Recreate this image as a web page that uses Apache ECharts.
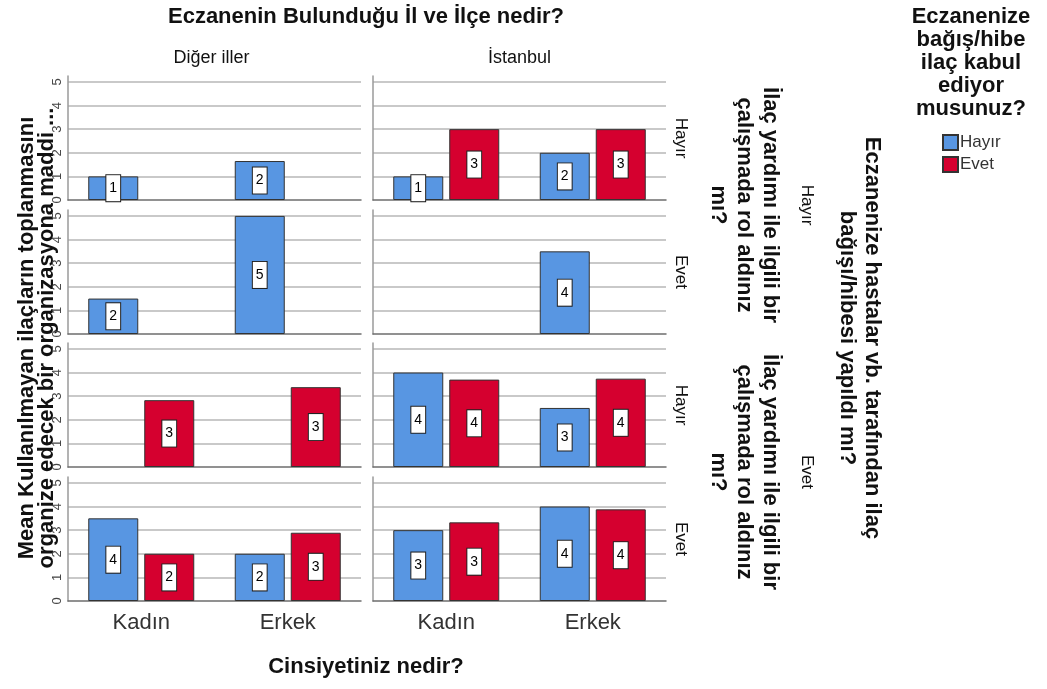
<!DOCTYPE html>
<html>
<head>
<meta charset="utf-8">
<script src="https://cdn.jsdelivr.net/npm/echarts@6/dist/echarts.min.js"></script>
<style>
  html, body { margin: 0; padding: 0; background: #fff; }
  #chart { width: 1047px; height: 689px; }
</style>
</head>
<body>
<div id="chart"></div>
<script>
const categories = ['Kadın', 'Erkek']
const columns = ['Diğer iller', 'İstanbul']
const innerRows = ['Hayır', 'Evet', 'Hayır', 'Evet']
const outerRows = ['Hayır', 'Evet']
const groups = ['Hayır', 'Evet']
// one entry per panel row, top to bottom; each entry is [Kadın, Erkek]
const digerHayir = [[1.0, 1.65], [1.5, 5.0], [null, null], [3.5, 2.0]]
const digerEvet = [[null, null], [null, null], [2.83, 3.38], [2.0, 2.89]]
const istanbulHayir = [[1.0, 2.0], [null, 3.5], [4.0, 2.5], [3.0, 4.0]]
const istanbulEvet = [[3.0, 3.0], [null, null], [3.7, 3.74], [3.33, 3.88]]

const FONT = 'Liberation Sans, Arial, sans-serif'
const colors = ['#5896e2', '#d5002f']
const rowTops = [76, 210, 343, 477]
const rowH = 124
const colLefts = [68, 373]
const colW = 293

const chart = echarts.init(document.getElementById('chart'))

const grids = []
const xAxes = []
const yAxes = []
const series = []
const panelData = [[digerHayir, digerEvet], [istanbulHayir, istanbulEvet]]

rowTops.forEach((top, r) => {
  colLefts.forEach((left, c) => {
    const idx = grids.length
    grids.push({ left: left, top: top, width: colW, height: rowH })
    xAxes.push({
      type: 'category',
      gridIndex: idx,
      data: categories,
      axisLine: { lineStyle: { color: '#6e6e6e', width: 1.5 } },
      axisTick: { show: false },
      axisLabel: {
        show: r === rowTops.length - 1,
        fontSize: 22,
        color: '#333',
        fontFamily: FONT,
        margin: 11
      }
    })
    yAxes.push({
      type: 'value',
      gridIndex: idx,
      min: 0,
      max: 5.25,
      interval: 1,
      axisLine: { show: true, lineStyle: { color: '#9a9a9a', width: 1.5 } },
      axisTick: { show: false },
      axisLabel: {
        show: c === 0,
        showMaxLabel: false,
        rotate: 90,
        fontSize: 13,
        color: '#444',
        fontFamily: FONT,
        margin: 4
      },
      splitLine: {
        show: true,
        showMinLine: false,
        showMaxLine: false,
        lineStyle: { color: '#c9c9c9', width: 2 }
      }
    })
    groups.forEach((g, s) => {
      series.push({
        name: g,
        type: 'bar',
        xAxisIndex: idx,
        yAxisIndex: idx,
        barWidth: 50,
        barGap: '12%',
        itemStyle: { color: colors[s], borderColor: '#333', borderWidth: 1 },
        label: {
          show: true,
          position: 'inside',
          formatter: p => Math.round(p.value),
          color: '#000',
          fontSize: 14,
          fontFamily: FONT,
          backgroundColor: '#fff',
          borderColor: '#222',
          borderWidth: 1,
          padding: [6, 3]
        },
        data: panelData[c][s][r]
      })
    })
  })
})

const txt = (text, x, y, size, bold, rotation, lineHeight) => ({
  type: 'text',
  x: x,
  y: y,
  rotation: rotation || 0,
  silent: true,
  style: {
    text: text,
    fontSize: size,
    fontWeight: bold ? 'bold' : 'normal',
    fontFamily: FONT,
    fill: '#111',
    align: 'center',
    verticalAlign: 'middle',
    lineHeight: lineHeight || size * 1.2
  }
})

const graphics = [
  txt('Eczanenin Bulunduğu İl ve İlçe nedir?', 366, 17, 22, true),
  txt(columns[0], colLefts[0] + colW / 2 - 3, 58, 18, false),
  txt(columns[1], colLefts[1] + colW / 2, 58, 18, false),
  txt('Cinsiyetiniz nedir?', 366, 667, 22, true),
  txt('Mean Kullanılmayan ilaçların toplanmasını\norganize edecek bir organizasyona maddi ...', 37, 338, 22, true, Math.PI / 2, 20),
  txt('Eczanenize\nbağış/hibe\nilaç kabul\nediyor\nmusunuz?', 971, 63, 22, true, 0, 23),
  txt('Eczanenize hastalar vb. tarafından ilaç\nbağışı/hibesi yapıldı mı?', 860, 338, 22, true, -Math.PI / 2, 25)
]
innerRows.forEach((label, r) => {
  graphics.push(txt(label, 681, rowTops[r] + rowH / 2, 17, false, -Math.PI / 2))
})
outerRows.forEach((label, k) => {
  const cy = (rowTops[k * 2] + rowTops[k * 2 + 1] + rowH) / 2
  graphics.push(txt(label, 807, cy, 17, false, -Math.PI / 2))
  graphics.push(txt('İlaç yardımı ile ilgili bir\nçalışmada rol aldınız\nmı?', 744, cy, 22, true, -Math.PI / 2, 26))
})

const option = {
  animation: false,
  color: colors,
  legend: {
    data: groups,
    orient: 'vertical',
    left: 937,
    top: 129,
    itemWidth: 15,
    itemHeight: 15,
    itemGap: 5,
    icon: 'rect',
    textStyle: { fontSize: 17, color: '#333', fontFamily: FONT, padding: [0, 0, 0, -3] }
  },
  grid: grids,
  xAxis: xAxes,
  yAxis: yAxes,
  series: series,
  graphic: graphics
}
chart.setOption(option)
</script>
</body>
</html>
